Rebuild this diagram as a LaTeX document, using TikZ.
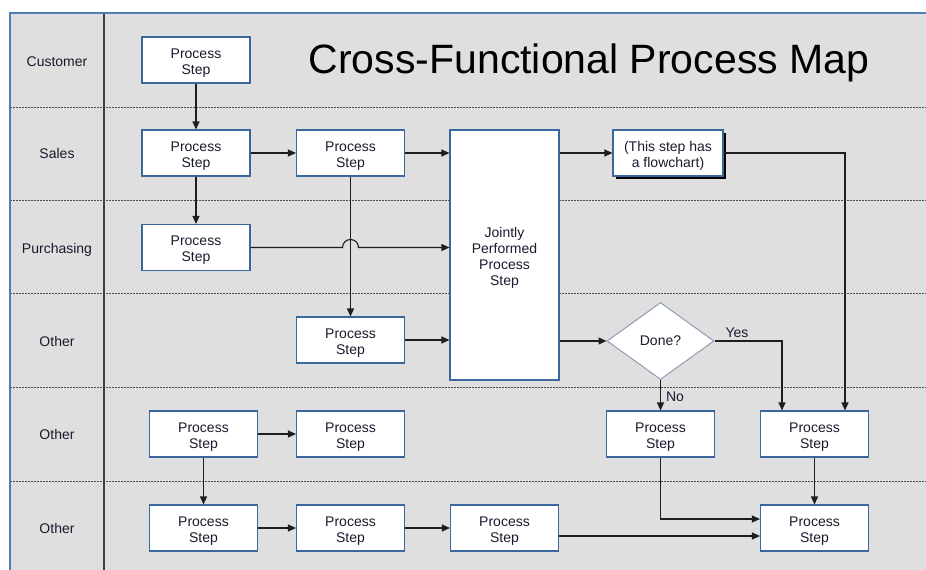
\documentclass[tikz,border=0pt]{standalone}
\usepackage{fontspec}
\setmainfont{Liberation Sans}
\usetikzlibrary{arrows.meta,shapes.geometric,shadows}
\definecolor{lanegray}{HTML}{DFDFDF}
\definecolor{boxblue}{HTML}{3A679E}
\definecolor{frameblue}{HTML}{4F7DB5}
\definecolor{diablue}{HTML}{8E9CB6}
\definecolor{linedark}{HTML}{1E1E1E}
\definecolor{txt}{HTML}{1A1A2E}
\newcommand{\tstrut}{\rule{0pt}{15.5pt}}
\tikzset{
  stepbox/.style={draw=boxblue, fill=white, line width=1.1pt, minimum width=108pt,
    minimum height=46pt, inner sep=0pt, align=center, text=txt,
    font=\fontsize{14}{16}\selectfont},
  decision/.style={diamond, draw=diablue, fill=white, line width=1pt, minimum width=107pt,
    minimum height=77pt, inner sep=0pt, text=txt, font=\fontsize{14}{16}\selectfont},
  lanelabel/.style={text=txt, font=\fontsize{14}{16}\selectfont, inner sep=0pt,
    text height=10pt, text depth=3pt},
  flowlbl/.style={text=txt, font=\fontsize{14}{16}\selectfont, inner sep=0pt},
  conn/.style={draw=linedark, line width=1.1pt, -{Triangle[length=8pt,width=7pt]}},
  lanesep/.style={draw=black!70, line width=0.9pt, dash pattern=on 1.5pt off 1.5pt},
}
\begin{document}
\begin{tikzpicture}[x=1pt, y=-1pt]
\useasboundingbox (0,0) rectangle (926,570);
\fill[white] (0,0) rectangle (926,570);
% frame
\fill[lanegray] (10,13) rectangle (926,570);
\foreach \yy in {107,200,293,387,481} {
  \draw[lanesep] (10,\yy) -- (926,\yy);
}
\draw[draw=black!75, line width=1.1pt] (104,13) -- (104,570);
\draw[draw=frameblue, line width=1.3pt] (10,570) -- (10,13) -- (926,13);

% lane labels
\node[lanelabel] (lcust) at (57,62.5) {Customer};
\node[lanelabel] (lsales) at (57,155) {Sales};
\node[lanelabel] (lpurch) at (57,249.5) {Purchasing};
\node[lanelabel] (lo1) at (57,342.7) {Other};
\node[lanelabel] (lo2) at (57,436) {Other};
\node[lanelabel] (lo3) at (57,530.3) {Other};

% title
\node[text=black, font=\fontsize{41}{45}\selectfont, inner sep=0pt] (title) at (589,62.5) {Cross-Functional Process Map};

% boxes
\node[stepbox] (c1) at (196,60) {\tstrut Process\\Step};
\node[stepbox] (s1) at (196,153) {\tstrut Process\\Step};
\node[stepbox] (s2) at (350.5,153) {\tstrut Process\\Step};
\node[stepbox, minimum width=109pt, minimum height=250pt] (j) at (504.5,255) {\tstrut Jointly\\Performed\\Process\\Step};
\node[stepbox, minimum width=110pt, drop shadow={shadow xshift=3pt, shadow yshift=-3pt, fill=black, opacity=1}] (f) at (668,153) {\tstrut (This step has\\a flowchart)};
\node[stepbox] (p) at (196,247.5) {\tstrut Process\\Step};
\node[stepbox] (o4) at (350.5,340) {\tstrut Process\\Step};
\node[decision] (d) at (660.5,341) {Done?};
\node[stepbox] (r5a) at (203.5,434) {\tstrut Process\\Step};
\node[stepbox] (r5b) at (350.5,434) {\tstrut Process\\Step};
\node[stepbox] (r5c) at (660.5,434) {\tstrut Process\\Step};
\node[stepbox] (r5d) at (814.5,434) {\tstrut Process\\Step};
\node[stepbox] (r6a) at (203.5,528) {\tstrut Process\\Step};
\node[stepbox] (r6b) at (350.5,528) {\tstrut Process\\Step};
\node[stepbox] (r6c) at (504.5,528) {\tstrut Process\\Step};
\node[stepbox] (r6d) at (814.5,528) {\tstrut Process\\Step};

% labels on branches
\node[flowlbl] (yes) at (737,333) {Yes};
\node[flowlbl] (no) at (675,397) {No};

% connectors
\draw[conn] (c1) -- (s1);
\draw[conn] (s1) -- (s2);
\draw[conn] (s2) -- (j.west |- s2);
\draw[conn] (j.east |- s2) -- (f);
\draw[conn] (f.east) -| ([xshift=30.5pt]r5d.north);
\draw[conn] (s1) -- (p);
\draw[conn] (p.east) -- (342.5,247.5) arc[start angle=180, end angle=360, radius=8] -- (j.west |- p.east);
\draw[conn] (s2) -- (o4);
\draw[conn] (o4) -- (j.west |- o4);
\draw[conn] (j.east |- d.west) -- (d.west);
\draw[conn] (d.east) -| ([xshift=-32.5pt]r5d.north);
\draw[conn] (d.south) -- (r5c.north);
\draw[conn] (r5a) -- (r5b);
\draw[conn] (r5a) -- (r6a);
\draw[conn] (r6a) -- (r6b);
\draw[conn] (r6b) -- (r6c);
\draw[conn] ([yshift=-8pt]r6c.east) -- ([yshift=-8pt]r6d.west);
\draw[conn] (r5c.south) |- ([yshift=9pt]r6d.west);
\draw[conn] (r5d) -- (r6d);
\end{tikzpicture}
\end{document}
